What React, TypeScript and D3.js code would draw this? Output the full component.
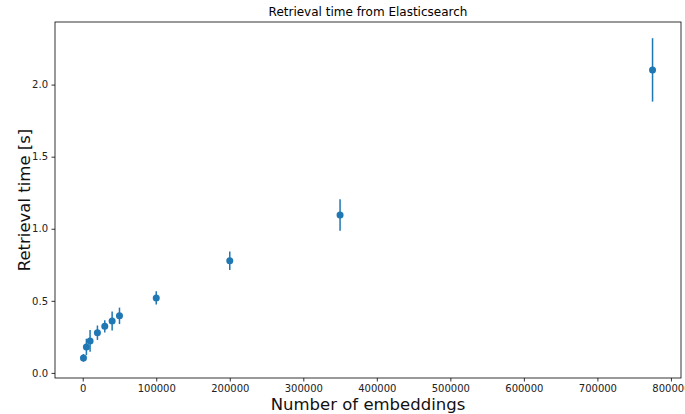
import * as d3 from "d3";
import { useEffect, useRef } from "react";

// number of embeddings indexed
const embeddings = [1000, 5000, 10000, 20000, 30000, 40000, 50000, 100000, 200000, 350000, 775000];
// mean retrieval time [s]
const meanTime = [0.104, 0.18, 0.222, 0.279, 0.323, 0.36, 0.396, 0.52, 0.778, 1.095, 2.102];
// standard deviation [s]
const stdTime = [0.027, 0.057, 0.075, 0.05, 0.042, 0.066, 0.057, 0.046, 0.064, 0.109, 0.22];

const xTicks = [0, 100000, 200000, 300000, 400000, 500000, 600000, 700000, 800000];
const yTicks = [0.0, 0.5, 1.0, 1.5, 2.0];

export default function App() {
  const svgRef = useRef<SVGSVGElement>(null);

  useEffect(() => {
    const width = 685;
    const height = 414;
    const margin = { top: 22, right: 4, bottom: 36, left: 55 };
    const svg = d3.select(svgRef.current);
    svg.selectAll("*").remove();

    const font = "DejaVu Sans, sans-serif";
    const innerW = width - margin.left - margin.right;
    const innerH = height - margin.top - margin.bottom;

    const data = embeddings.map((e, i) => ({ x: e, y: meanTime[i], err: stdTime[i] }));

    // matplotlib-like 5% margins around data incl. error bars
    const xMin = d3.min(embeddings);
    const xMax = d3.max(embeddings);
    const xPad = (xMax - xMin) * 0.05;
    const yMin = d3.min(data, (d) => d.y - d.err);
    const yMax = d3.max(data, (d) => d.y + d.err);
    const yPad = (yMax - yMin) * 0.05;

    const x = d3.scaleLinear().domain([xMin - xPad, xMax + xPad]).range([0, innerW]);
    const y = d3.scaleLinear().domain([yMin - yPad, yMax + yPad]).range([innerH, 0]);

    const g = svg.append("g").attr("transform", `translate(${margin.left},${margin.top})`);

    // axes
    const xAxis = g.append("g")
      .attr("transform", `translate(0,${innerH})`)
      .call(d3.axisBottom(x).tickValues(xTicks).tickFormat(d3.format("d")).tickSize(3.5).tickPadding(3.5));
    const yAxis = g.append("g")
      .call(d3.axisLeft(y).tickValues(yTicks).tickFormat(d3.format(".1f")).tickSize(3.5).tickPadding(3.5));

    [xAxis, yAxis].forEach((a) => {
      a.select(".domain").remove();
      a.selectAll("line").attr("stroke", "#000").attr("stroke-width", 0.8);
      a.selectAll("text").attr("font-family", font).attr("font-size", 10).attr("fill", "#222");
    });

    // frame
    g.append("rect")
      .attr("width", innerW)
      .attr("height", innerH)
      .attr("fill", "none")
      .attr("stroke", "#000")
      .attr("stroke-width", 0.8);

    // error bars
    g.selectAll(".err")
      .data(data)
      .join("line")
      .attr("x1", (d) => x(d.x))
      .attr("x2", (d) => x(d.x))
      .attr("y1", (d) => y(d.y - d.err))
      .attr("y2", (d) => y(d.y + d.err))
      .attr("stroke", "#1f77b4")
      .attr("stroke-width", 1.5);

    // points
    g.selectAll(".pt")
      .data(data)
      .join("circle")
      .attr("cx", (d) => x(d.x))
      .attr("cy", (d) => y(d.y))
      .attr("r", 3.5)
      .attr("fill", "#1f77b4");

    // title
    svg.append("text")
      .attr("x", margin.left + innerW / 2)
      .attr("y", 16)
      .attr("text-anchor", "middle")
      .attr("font-family", font)
      .attr("font-size", 12)
      .text("Retrieval time from Elasticsearch");

    // axis labels
    svg.append("text")
      .attr("x", margin.left + innerW / 2)
      .attr("y", 410)
      .attr("text-anchor", "middle")
      .attr("font-family", font)
      .attr("font-size", 16.5)
      .attr("fill", "#111")
      .text("Number of embeddings");

    svg.append("text")
      .attr("transform", `translate(30,${margin.top + innerH / 2}) rotate(-90)`)
      .attr("text-anchor", "middle")
      .attr("font-family", font)
      .attr("font-size", 16.5)
      .attr("fill", "#111")
      .text("Retrieval time [s]");
  }, []);

  return (
    <svg
      ref={svgRef}
      width={685}
      height={414}
      style={{ position: "absolute", left: 0, top: 0, background: "#fff" }}
    />
  );
}
